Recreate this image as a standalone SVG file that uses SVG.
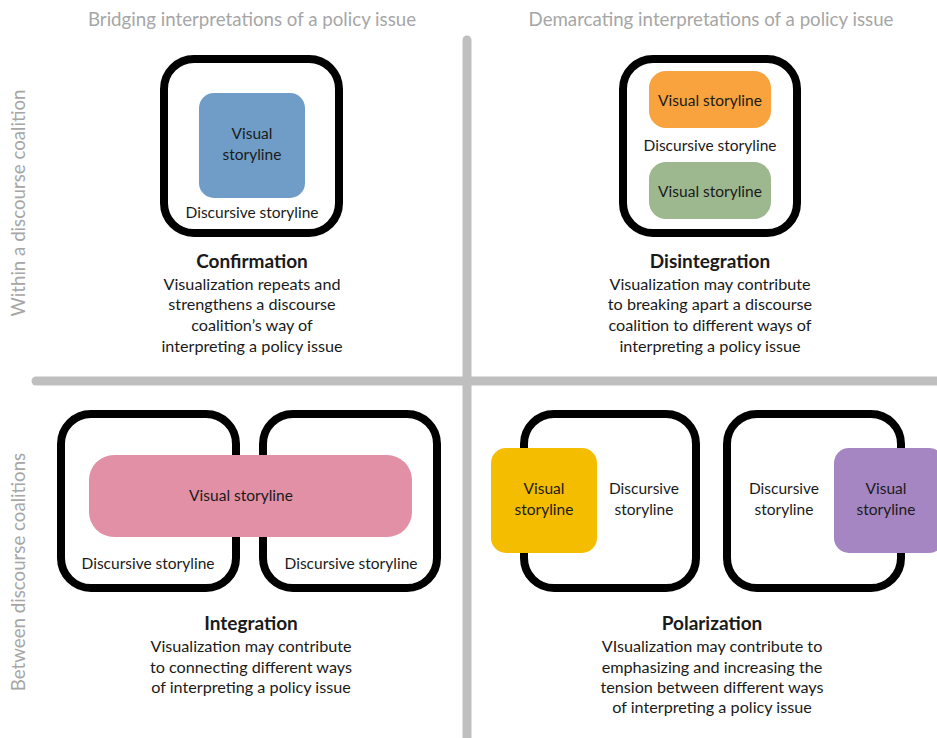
<svg xmlns="http://www.w3.org/2000/svg" width="937" height="738" viewBox="0 0 937 738">
<style>
text{font-family:Lato,"Open Sans","Liberation Sans",sans-serif;fill:#1a1a1a;text-anchor:middle;dominant-baseline:central}
.hdr{fill:#a6a6a6;font-size:18.7px}
.frame{fill:none;stroke:#000;stroke-width:8}
.t{font-size:15.5px}
.d{font-size:16.2px}
.title{font-size:19px;font-weight:bold}
.axis{stroke:#bfbfbf;stroke-width:9;stroke-linecap:round}
</style>
<rect width="937" height="738" fill="#fff"/>
<g id="axes">
<line class="axis" x1="467" y1="40" x2="467" y2="742"/>
<line class="axis" x1="36" y1="381" x2="945" y2="381"/>
<text class="hdr" x="252" y="19">Bridging interpretations of a policy issue</text>
<text class="hdr" x="711" y="19">Demarcating interpretations of a policy issue</text>
<text class="hdr" transform="translate(18,203) rotate(-90)">Within a discourse coalition</text>
<text class="hdr" transform="translate(18,572) rotate(-90)">Between discourse coalitions</text>
</g>
<g id="confirmation">
<rect class="frame" x="164" y="59" width="175" height="174" rx="30"/>
<rect x="199" y="93" width="106" height="105" rx="15" fill="#6f9dc7"/>
<text class="t" x="252" y="133">Visual</text>
<text class="t" x="252" y="154">storyline</text>
<text class="t" x="252" y="212">Discursive storyline</text>
<text class="title" x="252" y="260">Confirmation</text>
<text class="d" x="252" y="283">Visualization repeats and</text>
<text class="d" x="252" y="303">strengthens a discourse</text>
<text class="d" x="252" y="324">coalition’s way of</text>
<text class="d" x="252" y="345">interpreting a policy issue</text>
</g>
<g id="disintegration">
<rect class="frame" x="623" y="59" width="174" height="174" rx="30"/>
<rect x="649" y="71" width="122" height="57" rx="17" fill="#f8a33e"/>
<rect x="649" y="162" width="122" height="57" rx="17" fill="#9db78f"/>
<text class="t" x="710" y="100">Visual storyline</text>
<text class="t" x="710" y="145">Discursive storyline</text>
<text class="t" x="710" y="191">Visual storyline</text>
<text class="title" x="710" y="260">Disintegration</text>
<text class="d" x="710" y="283">Visualization may contribute</text>
<text class="d" x="710" y="303">to breaking apart a discourse</text>
<text class="d" x="710" y="324">coalition to different ways of</text>
<text class="d" x="710" y="345">interpreting a policy issue</text>
</g>
<g id="integration">
<rect class="frame" x="61" y="414" width="175" height="174" rx="30"/>
<rect class="frame" x="263" y="414" width="174" height="174" rx="30"/>
<rect x="89" y="455" width="323" height="82" rx="25" fill="#e290a6"/>
<text class="t" x="241" y="495">Visual storyline</text>
<text class="t" x="148" y="563">Discursive storyline</text>
<text class="t" x="351" y="563">Discursive storyline</text>
<text class="title" x="251" y="622">Integration</text>
<text class="d" x="251" y="645">Visualization may contribute</text>
<text class="d" x="251" y="666">to connecting different ways</text>
<text class="d" x="251" y="686">of interpreting a policy issue</text>
</g>
<g id="polarization">
<rect class="frame" x="524" y="414" width="172" height="174" rx="30"/>
<rect class="frame" x="727" y="414" width="174" height="174" rx="30"/>
<rect x="491" y="448" width="106" height="105" rx="15" fill="#f5bd00"/>
<rect x="834" y="448" width="110" height="105" rx="15" fill="#a686c2"/>
<text class="t" x="544" y="488">Visual</text>
<text class="t" x="544" y="509">storyline</text>
<text class="t" x="644" y="488">Discursive</text>
<text class="t" x="644" y="509">storyline</text>
<text class="t" x="784" y="488">Discursive</text>
<text class="t" x="784" y="509">storyline</text>
<text class="t" x="886" y="488">Visual</text>
<text class="t" x="886" y="509">storyline</text>
<text class="title" x="712" y="622">Polarization</text>
<text class="d" x="712" y="645">VIsualization may contribute to</text>
<text class="d" x="712" y="666">emphasizing and increasing the</text>
<text class="d" x="712" y="686">tension between different ways</text>
<text class="d" x="712" y="706">of interpreting a policy issue</text>
</g>
<g id="connectors"/>
</svg>
